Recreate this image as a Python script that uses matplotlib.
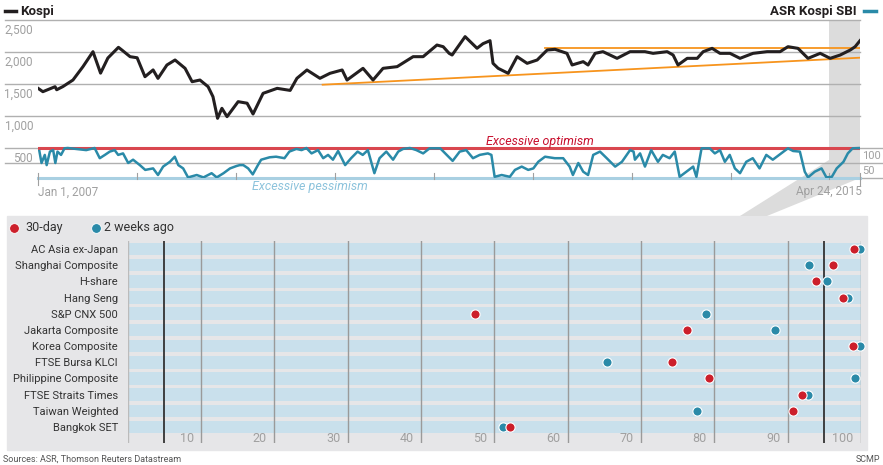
import matplotlib
matplotlib.use("Agg")
import matplotlib.pyplot as plt
import matplotlib.transforms as mtransforms
from matplotlib.patches import Rectangle, Polygon
from matplotlib.lines import Line2D
import pandas as pd

plt.rcParams['font.family'] = ['Roboto', 'DejaVu Sans']

# Kospi index
kospi_dates = [
    "2007-01-01", "2007-01-19", "2007-03-05", "2007-03-11", "2007-04-03", "2007-05-10", "2007-06-16",
    "2007-07-23", "2007-08-20", "2007-09-16", "2007-10-25", "2007-11-07", "2007-12-07",
    "2008-01-02", "2008-01-31", "2008-03-01", "2008-03-19", "2008-04-21", "2008-05-21", "2008-06-27",
    "2008-07-23", "2008-08-21", "2008-09-20", "2008-10-08", "2008-10-25", "2008-11-10", "2008-11-29",
    "2009-01-09", "2009-02-11", "2009-03-05", "2009-04-11", "2009-06-02", "2009-07-20", "2009-08-14",
    "2009-09-20", "2009-11-07", "2009-12-14",
    "2010-01-28", "2010-02-15", "2010-04-15", "2010-05-22", "2010-06-28", "2010-08-19", "2010-10-17",
    "2010-11-23",
    "2011-01-13", "2011-02-05", "2011-02-27", "2011-03-10", "2011-04-27", "2011-06-10", "2011-07-02",
    "2011-07-28", "2011-08-08", "2011-08-27", "2011-10-03", "2011-11-05", "2011-12-12",
    "2012-01-18", "2012-02-24", "2012-03-24", "2012-05-07", "2012-05-26", "2012-07-06", "2012-07-24",
    "2012-08-19", "2012-09-17", "2012-11-08", "2012-12-26",
    "2013-02-19", "2013-03-21", "2013-05-12", "2013-06-03", "2013-06-21", "2013-07-25", "2013-08-31",
    "2013-09-22", "2013-10-25", "2013-11-23", "2013-12-30",
    "2014-02-05", "2014-03-25", "2014-05-16", "2014-07-03", "2014-08-01", "2014-09-07", "2014-10-14",
    "2014-11-28",
    "2015-01-04", "2015-02-10", "2015-03-19", "2015-04-06", "2015-04-24",
]
kospi_values = [
    1433, 1380, 1458, 1410, 1460, 1562, 1771, 2005, 1670, 1906, 2073, 2030, 1927,
    1910, 1614, 1720, 1588, 1797, 1875, 1745, 1536, 1562, 1458, 1302, 964, 1120, 990,
    1224, 1200, 1031, 1354, 1432, 1400, 1589, 1719, 1589, 1667,
    1719, 1562, 1745, 1562, 1745, 1771, 1927, 1927,
    2109, 2083, 1979, 1953, 2240, 2058, 2130, 2177, 1823, 1745, 1667, 1927, 1823,
    1875, 2031, 2042, 1979, 1797, 1849, 1797, 1979, 2005, 1901, 2005,
    2005, 1979, 2005, 1953, 1797, 1901, 1901, 2005, 2057, 1979, 1979,
    1901, 1979, 2005, 2005, 2083, 2057, 1901, 1979,
    1901, 1953, 2031, 2083, 2177,
]

# ASR Kospi SBI (0-100)
sbi_dates = [
    "2007-01-06", "2007-01-14", "2007-01-26", "2007-02-02", "2007-02-14", "2007-02-26", "2007-03-06",
    "2007-03-14", "2007-03-27", "2007-04-09", "2007-04-21", "2007-06-28", "2007-07-29", "2007-08-17",
    "2007-09-05", "2007-09-23", "2007-10-11", "2007-10-24", "2007-11-11", "2007-11-30", "2007-12-18",
    "2008-01-12", "2008-02-01", "2008-03-01", "2008-03-19", "2008-04-07", "2008-05-02", "2008-05-20",
    "2008-06-02", "2008-06-20", "2008-07-08", "2008-08-09", "2008-09-03", "2008-10-03", "2008-10-22",
    "2008-11-16", "2008-12-10",
    "2009-01-03", "2009-01-15", "2009-01-28", "2009-02-15", "2009-03-04", "2009-03-23", "2009-04-04",
    "2009-05-05", "2009-05-29", "2009-06-29", "2009-07-17", "2009-08-12", "2009-08-31", "2009-09-18",
    "2009-10-07", "2009-10-31", "2009-11-19", "2009-12-07", "2009-12-25",
    "2010-01-13", "2010-02-08", "2010-03-02", "2010-03-26", "2010-04-14", "2010-05-03", "2010-05-27",
    "2010-06-15", "2010-07-10", "2010-08-04", "2010-08-23", "2010-09-10", "2010-10-05", "2010-10-29",
    "2010-11-23", "2010-12-17",
    "2011-01-25", "2011-02-18", "2011-03-12", "2011-04-07", "2011-05-01", "2011-05-26", "2011-06-20",
    "2011-07-20", "2011-08-02", "2011-08-14", "2011-09-09", "2011-10-09", "2011-10-28", "2011-11-22",
    "2011-12-16",
    "2012-01-04", "2012-01-22", "2012-02-16", "2012-03-23", "2012-04-23", "2012-05-17", "2012-05-29",
    "2012-06-18", "2012-07-06", "2012-07-24", "2012-08-12", "2012-09-06", "2012-10-01", "2012-11-01",
    "2012-11-26", "2012-12-26",
    "2013-01-08", "2013-01-13", "2013-02-01", "2013-02-19", "2013-03-14", "2013-04-08", "2013-04-26",
    "2013-05-21", "2013-06-09", "2013-06-27", "2013-07-22", "2013-08-16", "2013-08-28", "2013-09-16",
    "2013-10-16", "2013-11-04", "2013-11-23", "2013-12-11", "2013-12-29",
    "2014-01-17", "2014-02-05", "2014-02-28", "2014-03-24", "2014-04-18", "2014-05-13", "2014-06-06",
    "2014-07-07", "2014-08-01", "2014-08-20", "2014-09-14", "2014-10-02", "2014-10-14", "2014-11-08",
    "2014-12-03", "2014-12-21",
    "2015-01-10", "2015-01-28", "2015-02-22", "2015-03-10", "2015-03-28", "2015-04-24",
]
sbi_values = [
    90, 50, 77, 43, 88, 93, 50, 88, 77, 99, 100, 93, 100, 66, 77, 88, 93, 77, 82, 50, 61,
    43, 27, 32, 10, 38, 54, 71, 43, 32, 2, 10, 2, 16, 2, 16, 32,
    40, 43, 43, 32, 12, 43, 61, 69, 71, 66, 88, 97, 93, 100, 82, 93, 66, 77, 61,
    90, 43, 66, 88, 77, 93, 16, 66, 88, 61, 88, 97, 100, 93, 82, 99,
    99, 77, 57, 88, 93, 66, 77, 82, 77, 4, 10, 4, 27, 38, 27,
    32, 54, 71, 66, 66, 38, 10, 50, 21, 10, 77, 88, 66, 38, 54, 93,
    88, 61, 82, 38, 93, 54, 77, 66, 88, 4, 21, 38, 4, 99, 99, 82, 93, 54, 77,
    32, 16, 54, 66, 32, 77, 61, 82, 99, 90, 88, 21, 2, 21, 32, 2,
    4, 32, 54, 82, 99, 100,
]

# orange trend lines on the Kospi
support_dates = ["2009-11-17", "2015-04-24"]
support_values = [1489, 1911]
resist_dates = ["2012-02-16", "2015-04-24"]
resist_values = [2070, 2070]

kospi_ticks = [2500, 2000, 1500, 1000, 500]
year_ticks = ["2008-01-01", "2009-01-01", "2010-01-01", "2011-01-01",
              "2012-01-01", "2013-01-01", "2014-01-01", "2015-01-01"]

# lower panel
markets = ["AC Asia ex-Japan", "Shanghai Composite", "H-share", "Hang Seng", "S&P CNX 500",
           "Jakarta Composite", "Korea Composite", "FTSE Bursa KLCI", "Philippine Composite",
           "FTSE Straits Times", "Taiwan Weighted", "Bangkok SET"]
thirty_day = [99.1, 96.2, 93.9, 97.5, 47.4, 76.3, 98.9, 74.2, 79.3, 91.9, 90.7, 52.1]
two_weeks = [99.9, 92.9, 95.4, 98.2, 78.9, 88.3, 99.9, 65.4, 99.2, 92.8, 77.6, 51.2]
panel_ticks = [10, 20, 30, 40, 50, 60, 70, 80, 90, 100]

RED = "#cc1f2b"
TEAL = "#2a8aa8"
GREY_TXT = "#a0a0a0"
W, H = 883, 465


def fx(px):
    return px / W


def fy(py):
    return 1 - py / H


fig = plt.figure(figsize=(W / 100, H / 100), dpi=100)

# background pieces (panel box and callout wedge)
fig.add_artist(Rectangle((fx(7), fy(450)), fx(867) - fx(7), fy(216) - fy(450),
                         transform=fig.transFigure, color="#e6e6e8", zorder=-2))
fig.add_artist(Polygon([(fx(829), fy(160)), (fx(860), fy(178)), (fx(767), fy(216)), (fx(740), fy(216))],
                       closed=True, transform=fig.transFigure, color="#dcdcdc", zorder=-2, lw=0))

# ---- top chart ----
ax = fig.add_axes([fx(38), fy(178), (860 - 38) / W, (178 - 20) / H])
ax.set_facecolor("none")
ax2 = ax.twinx()
start, end = pd.Timestamp("2007-01-01"), pd.Timestamp("2015-04-24")
ax.set_xlim(start, end)
ax.set_ylim(31.25, 2500)
ax2.set_ylim(0, 526.67)
for a in (ax, ax2):
    for s in a.spines.values():
        s.set_visible(False)
    a.set_xticks([])
    a.set_yticks([])

ax.axvspan(pd.Timestamp("2015-01-01"), end, color="#dcdcdc", lw=0, zorder=0)

for v in kospi_ticks[:-1]:
    ax.axhline(v, xmin=-0.040, xmax=1, color="#b0b0b0", lw=1, clip_on=False, zorder=1)
blend = mtransforms.blended_transform_factory(ax.transAxes, ax.transData)
for v in kospi_ticks:
    ax.annotate(f"{v:,}", xy=(0, v), xycoords=blend, xytext=(-5, -10), textcoords="offset pixels",
                ha="right", va="center", color=GREY_TXT, fontsize=8.5)

ax2.axhline(100, xmin=-0.040, xmax=1.028, color="#b0b0b0", lw=1, clip_on=False, zorder=1)
ax2.axhline(50, xmin=-0.040, xmax=1.028, color="#b0b0b0", lw=1, clip_on=False, zorder=1)
ax2.axhline(0, xmin=0, xmax=1.028, color="#b0b0b0", lw=1, clip_on=False, zorder=1)
ax2.axhline(100, color="#d9474f", lw=2.2, zorder=2)
ax2.axhline(0, color="#a9d0e2", lw=2.2, clip_on=False, zorder=2)
blend2 = mtransforms.blended_transform_factory(ax2.transAxes, ax2.transData)
for v in (100, 50):
    ax2.annotate(str(v), xy=(1, v), xycoords=blend2, xytext=(2, -8), textcoords="offset pixels",
                 ha="left", va="center", color=GREY_TXT, fontsize=8)

for d in year_ticks:
    ax2.plot([pd.Timestamp(d)] * 2, [16.7, -3.3], color="#a0a0a0", lw=0.8, clip_on=False, zorder=3)
for d in (start, end):
    ax2.plot([d, d], [16.7, -23.3], color="#a0a0a0", lw=0.8, clip_on=False, zorder=3)

ax.plot(pd.to_datetime(support_dates), support_values, color="#f7941d", lw=1.3, zorder=3)
ax.plot(pd.to_datetime(resist_dates), resist_values, color="#f7941d", lw=1.3, zorder=3)
ax.plot(pd.to_datetime(kospi_dates), kospi_values, color="#231f20", lw=2.2, zorder=4)
ax2.plot(pd.to_datetime(sbi_dates), sbi_values, color=TEAL, lw=1.8, zorder=4)

ax2.text(0.6107, 123, "Excessive optimism", transform=blend2, ha="center", va="center",
         color="#c8102e", fontsize=9, style="italic")
ax2.text(0.331, -27, "Excessive pessimism", transform=blend2, ha="center", va="center",
         color="#8cc3dc", fontsize=9, style="italic")

fig.text(fx(38), fy(192), "Jan 1, 2007", ha="left", va="center", color=GREY_TXT, fontsize=8.5)
fig.text(fx(862), fy(192), "Apr 24, 2015", ha="right", va="center", color=GREY_TXT, fontsize=8.5)

# titles
fig.add_artist(Line2D([fx(5), fx(16)], [fy(11), fy(11)], color="#231f20", lw=2.5, transform=fig.transFigure))
fig.text(fx(20), fy(11), "Kospi", ha="left", va="center", fontsize=9.5, fontweight="bold", color="#231f20")
fig.text(fx(857), fy(11), "ASR Kospi SBI", ha="right", va="center", fontsize=9.5, fontweight="bold",
         color="#231f20")
fig.add_artist(Line2D([fx(864), fx(876)], [fy(11), fy(11)], color=TEAL, lw=2.5, transform=fig.transFigure))

# ---- bottom panel ----
bx = fig.add_axes([fx(127.7), fy(443.2), (860.9 - 127.7) / W, (443.2 - 240.9) / H])
bx.set_facecolor("none")
rows = list(range(len(markets)))
bx.set_xlim(0, 100)
bx.set_ylim(12.0, -0.5)
bx.barh(rows, 100, left=0, height=0.78, color="#c9e0ec", zorder=1)
for v in [0] + panel_ticks:
    bx.axvline(v, color="#bbbbbb" if v == 0 else "#9a9a9a", lw=1, zorder=2)
for v in (5, 95):
    bx.axvline(v, color="#333333", lw=1.3, zorder=2)
for v in panel_ticks:
    bx.text(v - 1.0, 11.74, str(v), ha="right", va="center", color=GREY_TXT, fontsize=9)
bx.scatter(two_weeks, rows, s=44, color=TEAL, edgecolor="white", lw=0.8, zorder=4, clip_on=False)
bx.scatter(thirty_day, rows, s=44, color=RED, edgecolor="white", lw=0.8, zorder=5, clip_on=False)
bx.set_yticks(rows)
bx.set_yticklabels(markets, fontsize=8, color="#333333")
bx.set_xticks([])
bx.tick_params(length=0, pad=7)
for s in bx.spines.values():
    s.set_visible(False)

# legend
fig.add_artist(Line2D([fx(14)], [fy(228)], marker="o", ms=7, color=RED, mec="white", mew=0.6,
                      transform=fig.transFigure))
fig.text(fx(25), fy(228), "30-day", ha="left", va="center", fontsize=9, color="#333333")
fig.add_artist(Line2D([fx(96)], [fy(228)], marker="o", ms=7, color=TEAL, mec="white", mew=0.6,
                      transform=fig.transFigure))
fig.text(fx(104), fy(228), "2 weeks ago", ha="left", va="center", fontsize=9, color="#333333")

fig.text(fx(3), fy(459), "Sources: ASR, Thomson Reuters Datastream", ha="left", va="center",
         fontsize=6.5, color="#555555")
fig.text(fx(880), fy(459), "SCMP", ha="right", va="center", fontsize=6.5, color="#555555")

fig.savefig("out.png", dpi=100)
